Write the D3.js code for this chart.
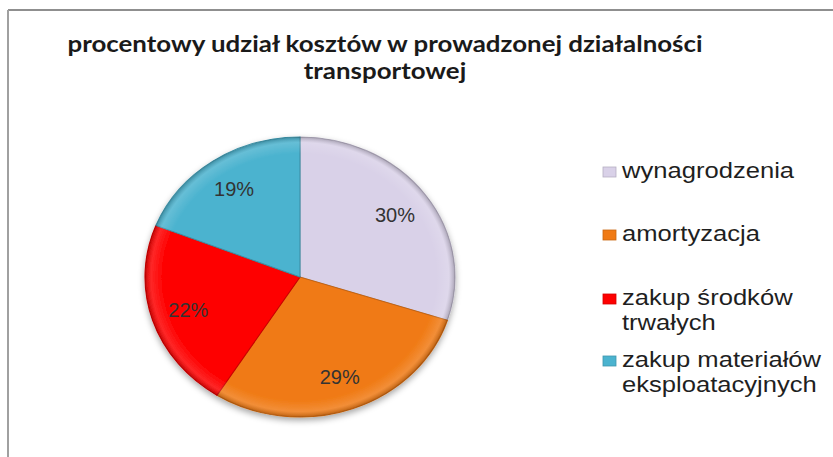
<!DOCTYPE html>
<html lang="pl">
<head>
  <meta charset="UTF-8">
  <title>procentowy udział kosztów</title>
  <script src="https://d3js.org/d3.v7.min.js"></script>
  <style>
    body { margin: 0; background: #fff; }
    .title { font-family: Lato, "Open Sans", sans-serif; font-weight: bold; font-size: 22px; fill: #1a1a1a; }
    .label { font-family: "Liberation Sans", Arial, sans-serif; font-size: 20px; fill: #333; text-anchor: middle; }
    .legend { font-family: "Liberation Sans", Arial, sans-serif; font-size: 21.5px; fill: #1f1f1f; }
  </style>
</head>
<body>
  <div id="chart"></div>
  <script>
    // dane
    const categories = ["wynagrodzenia", "amortyzacja", "zakup środków trwałych", "zakup materiałów eksploatacyjnych"];
    const legendLines = [["wynagrodzenia"], ["amortyzacja"], ["zakup środków", "trwałych"], ["zakup materiałów", "eksploatacyjnych"]];
    const values = [30, 29, 22, 19];
    const colors = ["#d9d1e8", "#f07a14", "#fe0000", "#4bb3cf"];
    const titleLines = ["procentowy udział kosztów w prowadzonej działalności", "transportowej"];

    const W = 833, H = 457;
    const svg = d3.select("#chart").append("svg")
      .attr("width", W).attr("height", H);

    const defs = svg.append("defs");
    const shadow = defs.append("filter").attr("id", "shadow")
      .attr("x", "-20%").attr("y", "-20%").attr("width", "140%").attr("height", "140%");
    shadow.append("feDropShadow").attr("dx", 0).attr("dy", 3).attr("stdDeviation", 3)
      .attr("flood-color", "#000").attr("flood-opacity", 0.35);

    // ramka
    svg.append("line").attr("x1", 8).attr("x2", W).attr("y1", 10).attr("y2", 10)
      .attr("stroke", "#8f8f8f").attr("stroke-width", 2);
    svg.append("line").attr("x1", 8).attr("x2", 8).attr("y1", 10).attr("y2", H)
      .attr("stroke", "#a0a0a0").attr("stroke-width", 2);

    // tytuł
    const titleWidth = 635, titleCx = 385;
    const t1 = svg.append("text").attr("class", "title")
      .attr("x", titleCx).attr("y", 52).attr("text-anchor", "middle").text(titleLines[0]);
    const natural = t1.node().getComputedTextLength();
    const stretch = titleWidth / natural;
    t1.attr("textLength", titleWidth).attr("lengthAdjust", "spacingAndGlyphs");
    const t2 = svg.append("text").attr("class", "title")
      .attr("x", titleCx).attr("y", 79).attr("text-anchor", "middle").text(titleLines[1]);
    t2.attr("textLength", t2.node().getComputedTextLength() * stretch).attr("lengthAdjust", "spacingAndGlyphs");

    // wykres kołowy
    const cx = 300, cy = 277, r = 140, sx = 155 / 140;
    const pie = d3.pie().sort(null).value(d => d)(values);
    const arc = d3.arc().innerRadius(0).outerRadius(r);
    const labelArc = d3.arc().innerRadius(106).outerRadius(106);

    const g = svg.append("g")
      .attr("transform", `translate(${cx},${cy}) scale(${sx},1)`)
      .attr("filter", "url(#shadow)");

    g.selectAll("path.slice")
      .data(pie)
      .enter()
      .append("path")
      .attr("class", "slice")
      .attr("d", arc)
      .attr("fill", (d, i) => colors[i])
      .attr("stroke", (d, i) => d3.color(colors[i]).darker(0.6))
      .attr("stroke-width", 1);

    // efekt wypukłości
    const bevel = defs.append("radialGradient").attr("id", "bevel")
      .attr("cx", "50%").attr("cy", "50%").attr("r", "50%");
    bevel.append("stop").attr("offset", "0.88").attr("stop-color", "#fff").attr("stop-opacity", 0);
    bevel.append("stop").attr("offset", "0.96").attr("stop-color", "#fff").attr("stop-opacity", 0.15);
    bevel.append("stop").attr("offset", "1").attr("stop-color", "#000").attr("stop-opacity", 0.22);
    g.append("circle").attr("r", r).attr("fill", "url(#bevel)").attr("pointer-events", "none");

    svg.selectAll("text.label")
      .data(pie)
      .enter()
      .append("text")
      .attr("class", "label")
      .attr("x", d => cx + labelArc.centroid(d)[0] * sx)
      .attr("y", d => cy + labelArc.centroid(d)[1] + 7)
      .text(d => d.data + "%");

    // legenda
    const legX = 603, legTextX = 622, legStretch = 1.19, lineH = 25;
    const legBase = [178, 241, 305, 367];
    const legend = svg.append("g");
    legendLines.forEach((lines, i) => {
      legend.append("rect")
        .attr("x", legX).attr("y", legBase[i] - 11)
        .attr("width", 13).attr("height", 10)
        .attr("fill", colors[i])
        .attr("stroke", d3.color(colors[i]).darker(0.5)).attr("stroke-width", 0.8);
      lines.forEach((ln, j) => {
        legend.append("text").attr("class", "legend")
          .attr("transform", `translate(${legTextX},${legBase[i] + j * lineH}) scale(${legStretch},1)`)
          .text(ln);
      });
    });
  </script>
</body>
</html>
